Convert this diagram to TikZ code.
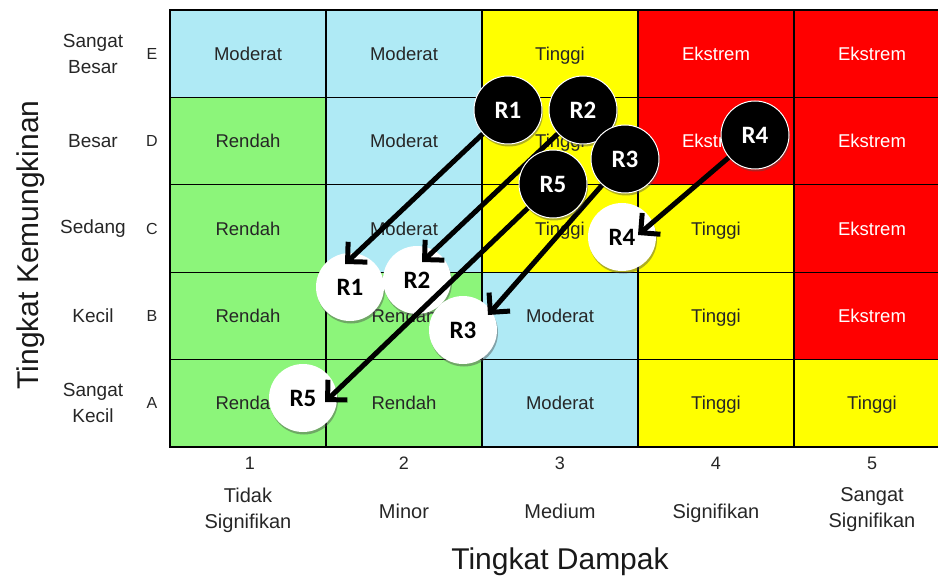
\documentclass[tikz,border=0pt]{standalone}
\usepackage{fontspec}
\setmainfont{Liberation Sans}
\newfontfamily\tagfont{Carlito}
\usetikzlibrary{arrows.meta,shadows}

\definecolor{lvlgreen}{RGB}{140,245,122}
\definecolor{lvlcyan}{RGB}{175,234,245}
\definecolor{lvlyellow}{RGB}{255,255,0}
\definecolor{lvlred}{RGB}{255,0,0}

\pgfdeclarelayer{matrixlayer}
\pgfdeclarelayer{linklayer}
\pgfsetlayers{matrixlayer,linklayer,main}

\tikzset{
  cell/.style={draw=black, line width=1.3pt, minimum width=156pt, minimum height=87.4pt,
    inner sep=0pt, text height=13.2pt, text depth=0pt, font=\fontsize{18.5}{20}\selectfont},
  rendah/.style={cell, fill=lvlgreen, text=black!85},
  moderat/.style={cell, fill=lvlcyan, text=black!85},
  tinggi/.style={cell, fill=lvlyellow, text=black!85},
  ekstrem/.style={cell, fill=lvlred, text=white},
  sidelabel/.style={align=center, font=\fontsize{19}{26}\selectfont, text=black!85},
  letterlabel/.style={font=\fontsize{16}{18}\selectfont, text=black!85},
  numlabel/.style={font=\fontsize{18}{20}\selectfont, text=black!85},
  impactlabel/.style={align=center, font=\fontsize{20}{26}\selectfont, text=black!85},
  impactsingle/.style={impactlabel, text height=14.3pt, text depth=0pt},
  axistitle/.style={font=\fontsize{30}{32}\selectfont, text=black!90},
  riskshadow/.style={drop shadow={shadow xshift=1pt, shadow yshift=-2.5pt, opacity=0.45, fill=black!70}},
  risktag/.style={circle, minimum size=68pt, inner sep=0pt,
    font=\tagfont\bfseries\fontsize{25}{25}\selectfont, riskshadow},
  riskbefore/.style={risktag, fill=black, draw=white, line width=1pt, text=white},
  riskafter/.style={risktag, fill=white, text=black},
  shiftarrow/.style={line width=5pt, -{Straight Barb[length=14pt,width=28pt]}},
}

\begin{document}
\begin{tikzpicture}[x=1pt,y=-1pt]
\useasboundingbox (0,0) rectangle (938,583);
\clip (0,0) rectangle (938,583);

\begin{pgfonlayer}{matrixlayer}
% risk matrix: rows E (top) to A (bottom), columns 1 to 5
\node[moderat] (cE1) at (248,53.7) {Moderat};
\node[moderat] (cE2) at (404,53.7) {Moderat};
\node[tinggi]  (cE3) at (560,53.7) {Tinggi};
\node[ekstrem] (cE4) at (716,53.7) {Ekstrem};
\node[ekstrem] (cE5) at (872,53.7) {Ekstrem};

\node[rendah]  (cD1) at (248,141.1) {Rendah};
\node[moderat] (cD2) at (404,141.1) {Moderat};
\node[tinggi]  (cD3) at (560,141.1) {Tinggi};
\node[ekstrem] (cD4) at (716,141.1) {Ekstrem};
\node[ekstrem] (cD5) at (872,141.1) {Ekstrem};

\node[rendah]  (cC1) at (248,228.5) {Rendah};
\node[moderat] (cC2) at (404,228.5) {Moderat};
\node[tinggi]  (cC3) at (560,228.5) {Tinggi};
\node[tinggi]  (cC4) at (716,228.5) {Tinggi};
\node[ekstrem] (cC5) at (872,228.5) {Ekstrem};

\node[rendah]  (cB1) at (248,315.9) {Rendah};
\node[rendah]  (cB2) at (404,315.9) {Rendah};
\node[moderat] (cB3) at (560,315.9) {Moderat};
\node[tinggi]  (cB4) at (716,315.9) {Tinggi};
\node[ekstrem] (cB5) at (872,315.9) {Ekstrem};

\node[rendah]  (cA1) at (248,403.3) {Rendah};
\node[rendah]  (cA2) at (404,403.3) {Rendah};
\node[moderat] (cA3) at (560,403.3) {Moderat};
\node[tinggi]  (cA4) at (716,403.3) {Tinggi};
\node[tinggi]  (cA5) at (872,403.3) {Tinggi};

% residual risk positions
\node[riskafter] (w1) at (350,287) {R1};
\node[riskafter] (w2) at (417,280) {R2};
\node[riskafter] (w3) at (463,330) {R3};
\node[riskafter] (w4) at (622,237) {R4};
\node[riskafter] (w5) at (303,398) {R5};
\end{pgfonlayer}

% likelihood scale
\node[sidelabel] (lE) at (93,53.7) {Sangat\\Besar};
\node[sidelabel] (lD) at (93,141.1) {Besar};
\node[sidelabel] (lC) at (93,228.5) {Sedang};
\node[sidelabel] (lB) at (93,315.9) {Kecil};
\node[sidelabel] (lA) at (93,403.3) {Sangat\\Kecil};
\node[letterlabel] (kE) at (152,53.7) {E};
\node[letterlabel] (kD) at (152,141.1) {D};
\node[letterlabel] (kC) at (152,228.5) {C};
\node[letterlabel] (kB) at (152,315.9) {B};
\node[letterlabel] (kA) at (152,403.3) {A};
\node[axistitle, rotate=90] (ytitle) at (31,245) {Tingkat Kemungkinan};

% impact scale
\node[numlabel] (n1) at (250,463) {1};
\node[numlabel] (n2) at (404,463) {2};
\node[numlabel] (n3) at (560,463) {3};
\node[numlabel] (n4) at (716,463) {4};
\node[numlabel] (n5) at (872,463) {5};
\node[impactlabel] (i1) at (248,510) {Tidak\\Signifikan};
\node[impactsingle] (i2) at (404,511) {Minor};
\node[impactsingle] (i3) at (560,511) {Medium};
\node[impactsingle] (i4) at (716,511) {Signifikan};
\node[impactlabel] (i5) at (872,510) {Sangat\\Signifikan};
\node[axistitle] (xtitle) at (560,562) {Tingkat Dampak};

% inherent risk positions
\node[riskbefore] (b1) at (508,110) {R1};
\node[riskbefore] (b2) at (583,110) {R2};
\node[riskbefore] (b5) at (553,184) {R5};
\node[riskbefore] (b3) at (625,159) {R3};
\node[riskbefore] (b4) at (755,135) {R4};

% movement from inherent to residual position
\begin{pgfonlayer}{linklayer}
\draw[shiftarrow] (b1) -- ([shift={(-5,-23)}]w1.center);
\draw[shiftarrow] (b2) -- ([shift={(5,-18)}]w2.center);
\draw[shiftarrow] (b3) -- ([shift={(25,-15)}]w3.center);
\draw[shiftarrow] (b4) -- ([shift={(16,-2)}]w4.center);
\draw[shiftarrow] (b5) -- ([shift={(22,4)}]w5.center);
\end{pgfonlayer}
\end{tikzpicture}
\end{document}
